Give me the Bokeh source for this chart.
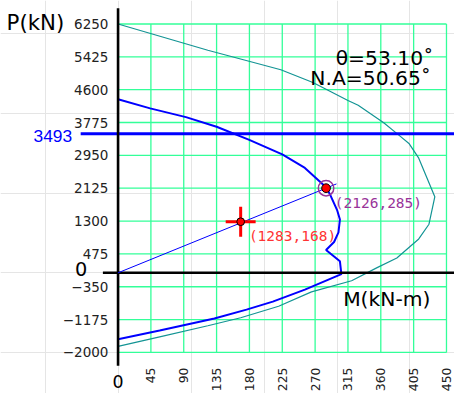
import math
from bokeh.plotting import figure
from bokeh.models import Range1d
from bokeh.embed import file_html
from bokeh.resources import INLINE
from bokeh.core.properties import value

# ---------------- data ----------------
m_ticks = [45, 90, 135, 180, 225, 270, 315, 360, 405, 450]
p_ticks = [6250, 5425, 4600, 3775, 2950, 2125, 1300, 475, -350, -1175, -2000]
p_tick_labels = ["6250", "5425", "4600", "3775", "2950", "2125", "1300", "475",
                 "\u2212350", "\u22121175", "\u22122000"]

# nominal strength curve (Pn - Mn), teal
nominal_m = [0, 123, 223, 267, 315, 329, 364, 386, 399, 412, 434, 426, 412,
             382, 355, 320, 265, 220, 168, 123, 57, 0]
nominal_p = [6250, 5590, 5100, 4780, 4330, 4210, 3770, 3440, 3240, 2880, 1910,
             1220, 850, 370, 130, -200, -480, -840, -1130, -1330, -1610, -1850]

# design strength curve (phi Pn - phi Mn), blue
design_m = [0, 44, 93, 135, 179, 225, 256, 285, 291, 300, 304, 302, 296, 285,
            304, 306, 256, 212, 176, 132, 57, 0]
design_p = [4360, 4130, 3910, 3670, 3346, 2975, 2635, 2150, 1946, 1582, 1339,
            1017, 774, 573, 289, -34, -422, -723, -925, -1150, -1451, -1669]

p_max_line = 3493
theta_deg = "53.10"
na_deg = "50.65"
design_pt_m, design_pt_p = 285, 2126
load_pt_m, load_pt_p = 168, 1283

# ---------------- layout ----------------
W, H = 454, 393
S = W / 470                    # overall scale so the whole chart fits
X0, Y0 = 121.7, 281.9          # origin position (reference pixels)
KX, KY = 34 / 45, 34 / 825     # reference pixels per unit


def m_at(xr):
    return (xr - X0) / KX


def p_at(yr):
    return (Y0 - yr) / KY


x_lo, x_hi = m_at(0), m_at(W / S)
y_lo, y_hi = p_at(H / S), p_at(0)

p = figure(width=W, height=H, x_range=Range1d(x_lo, x_hi), y_range=Range1d(y_lo, y_hi),
           output_backend="svg", toolbar_location=None,
           x_axis_location=None, y_axis_location=None, min_border=0,
           outline_line_color=None, background_fill_color="white",
           border_fill_color="white")

FONT = value("DejaVu Sans")
grid_color = "#33ff99"

# grid
gx = [0] + m_ticks
p.segment(x0=gx, y0=[min(p_ticks)] * len(gx), x1=gx, y1=[max(p_ticks)] * len(gx),
          line_color=grid_color, line_width=1.3)
p.segment(x0=[0] * len(p_ticks), y0=p_ticks, x1=[max(m_ticks)] * len(p_ticks), y1=p_ticks,
          line_color=grid_color, line_width=1.3)

# curves
p.line(nominal_m, nominal_p, line_color="#139494", line_width=1.2)
p.line(design_m, design_p, line_color="#0000ff", line_width=2)

# P max line
p.segment(x0=[m_at(83)], y0=[p_max_line], x1=[x_hi], y1=[p_max_line],
          line_color="#0000ff", line_width=3)

# axes
p.segment(x0=[0], y0=[p_at(378)], x1=[0], y1=[p_at(8)], line_color="black", line_width=2.6)
p.segment(x0=[m_at(106)], y0=[0], x1=[x_hi], y1=[0], line_color="black", line_width=2.6)

# load line
ext = 1.05
p.line([0, design_pt_m * ext], [0, design_pt_p * ext], line_color="#0000ff", line_width=1)

# markers
p.scatter(x=[load_pt_m], y=[load_pt_p], marker="cross", size=31 * S,
          line_color="#ff0000", line_width=3)
p.scatter(x=[load_pt_m], y=[load_pt_p], marker="circle", size=8 * S,
          fill_color="#ff0000", line_color="black", line_width=1)
p.scatter(x=[design_pt_m], y=[design_pt_p], marker="circle", size=16 * S,
          fill_color=None, line_color="#993399", line_width=1.5)
p.scatter(x=[design_pt_m], y=[design_pt_p], marker="circle", size=9 * S,
          fill_color="#ff0000", line_color="black", line_width=1)

# point labels
MONO = value("DejaVu Sans Mono")
p.text(x=[design_pt_m], y=[design_pt_p], text=[f"({design_pt_p},{design_pt_m})"],
       x_offset=9 * S, y_offset=15.5 * S, text_align="left", text_baseline="middle",
       text_font=MONO, text_font_size=f"{15 * S:.1f}px", text_color="#993399")
p.text(x=[load_pt_m], y=[load_pt_p], text=[f"({load_pt_p},{load_pt_m})"],
       x_offset=8.5 * S, y_offset=15 * S, text_align="left", text_baseline="middle",
       text_font=MONO, text_font_size=f"{15 * S:.1f}px", text_color="#ff3333")

# tick labels
p.text(x=[0] * len(p_ticks), y=p_ticks, text=p_tick_labels, x_offset=-10 * S,
       text_align="right", text_baseline="middle", text_font=FONT,
       text_font_size=f"{14 * S:.1f}px", text_color="#222222")
p.text(x=m_ticks, y=[p_at(378)] * len(m_ticks), text=[str(v) for v in m_ticks],
       angle=math.pi / 2, y_offset=2 * S, text_align="right", text_baseline="middle",
       text_font=FONT, text_font_size=f"{12.8 * S:.1f}px", text_color="#222222")

# P max label
p.text(x=[0], y=[p_max_line], text=[str(p_max_line)], x_offset=-47.5 * S, y_offset=2.5 * S,
       text_align="right", text_baseline="middle", text_font=value("Liberation Sans"),
       text_font_size=f"{18 * S:.1f}px", text_color="#0000ff")

# zero labels
p.text(x=[m_at(83.5)], y=[p_at(278)], text=["0"], text_align="center", text_baseline="middle",
       text_font=FONT, text_font_size=f"{20 * S:.1f}px", text_color="black")
p.text(x=[0], y=[p_at(394.5)], text=["0"], text_align="center", text_baseline="middle",
       text_font=FONT, text_font_size=f"{18 * S:.1f}px", text_color="black")

# axis titles
p.text(x=[m_at(6.3)], y=[p_at(22.7)], text=["P(kN)"], text_align="left",
       text_baseline="alphabetic", text_font=FONT, text_font_size=f"{22 * S:.1f}px",
       text_color="black")
p.text(x=[m_at(354.7)], y=[p_at(309.5)], text=["M(kN-m)"], text_align="left",
       text_baseline="alphabetic", text_font=FONT, text_font_size=f"{21 * S:.1f}px",
       text_color="black")

# angle annotations
p.text(x=[m_at(347)], y=[p_at(59.3)], text=[f"\u03b8={theta_deg}\u02da"], text_align="left",
       text_baseline="alphabetic", text_font=FONT, text_font_size=f"{21 * S:.1f}px",
       text_color="black")
p.text(x=[m_at(320.7)], y=[p_at(80.7)], text=[f"N.A={na_deg}\u02da"], text_align="left",
       text_baseline="alphabetic", text_font=FONT, text_font_size=f"{21 * S:.1f}px",
       text_color="black")

open("out.html", "w").write(file_html(p, INLINE))
